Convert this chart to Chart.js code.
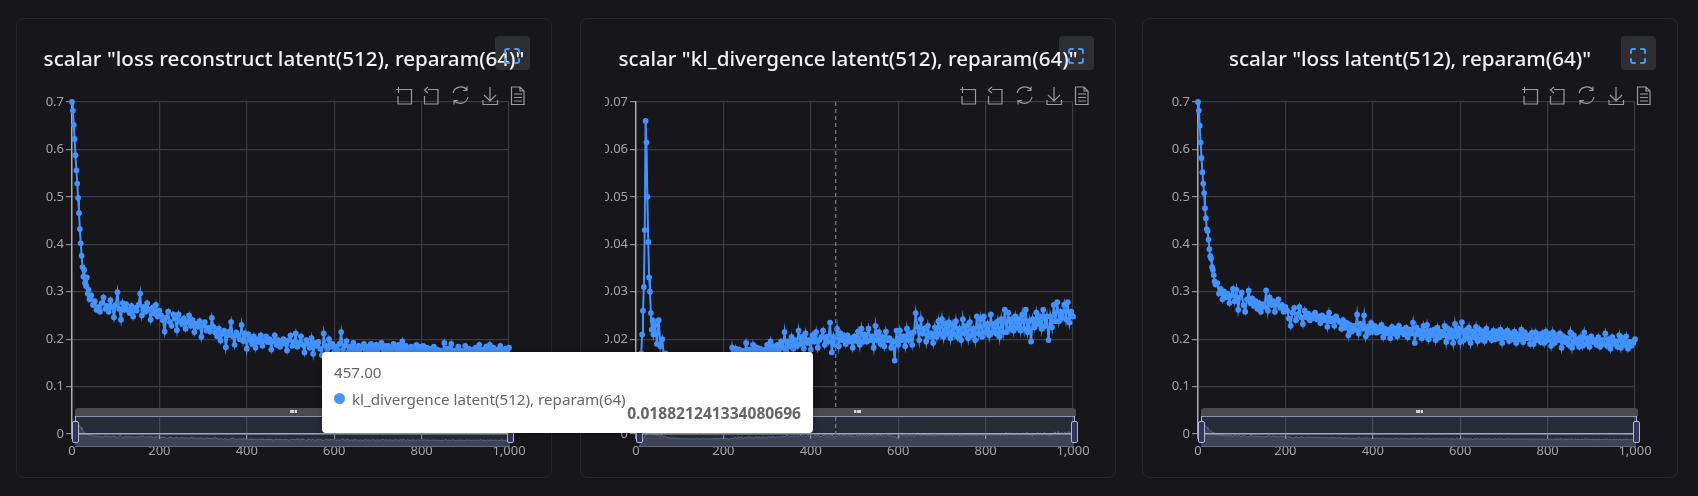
<!DOCTYPE html>
<html>
<head>
<meta charset="utf-8">
<title>scalars</title>
<script src="https://cdn.jsdelivr.net/npm/chart.js@4"></script>
<style>
html, body { margin: 0; padding: 0; background: #16161b; width: 1698px; height: 496px; overflow: hidden; font-family: "Noto Sans", sans-serif; }
.panel { position: absolute; top: 18px; width: 536px; height: 460px; box-sizing: border-box; border: 1px solid #26272b; border-radius: 8px; }
.panel canvas.main { position: absolute; left: -1px; top: -1px; clip-path: inset(0 0 0 25px); z-index: 2; }
.panel canvas.mini { position: absolute; left: 58px; top: 397px; z-index: 4; }
.btn { position: absolute; left: 478px; top: 17px; width: 35px; height: 34px; background: #2e2f34; border-radius: 4px; z-index: 1; }
.fullscreen { position: absolute; left: 487px; top: 28px; z-index: 5; }
.tools { position: absolute; left: 378px; top: 67px; z-index: 5; }
.filler { position: absolute; left: 58px; top: 397px; width: 435px; height: 31px; background: rgba(130,150,200,0.17); border-top: 1px solid #8e92a8; border-bottom: 1px solid #565a6b; box-sizing: border-box; z-index: 3; }
.mover { position: absolute; left: 58px; top: 389px; width: 437px; height: 8px; background: #4a4a4f; border-radius: 3px 3px 0 0; z-index: 3; }
.mover i { position: absolute; left: 215px; top: 2px; width: 7px; height: 3px; background: repeating-linear-gradient(90deg, #cfcfd4 0 2px, #7a7a80 2px 2.5px); }
.handle { position: absolute; top: 402px; width: 5px; height: 20px; background: #33345a; border: 1px solid #b5b6cf; border-radius: 2px; z-index: 6; }
.stem { position: absolute; top: 397px; width: 1px; height: 6px; background: #b5b6cf; z-index: 6; }
#tip { position: absolute; left: 322px; top: 352px; width: 491px; height: 81px; background: #fff; border-radius: 4px; color: #666; font-size: 15.2px; z-index: 10; box-shadow: 0 0 6px rgba(0,0,0,.25); }
#tip span { position: absolute; white-space: nowrap; line-height: 20px; }
#tip b { position: absolute; right: 12px; top: 51px; line-height: 20px; font-size: 15.6px; font-weight: 700; color: #666; }
#tip .dot { position: absolute; left: 12px; top: 41px; width: 11px; height: 11px; border-radius: 50%; background: #4a94ff; }
</style>
</head>
<body>
<div id="tip"></div>
<script>
// ---------- data ----------
const steps = [
    0, 2, 4, 6, 8, 10, 12, 14, 16, 18, 20, 22, 24, 26, 28, 30, 32, 34, 36, 38, 40,
    44, 48, 52, 56, 60, 64, 68, 72, 76, 80,
    84, 88, 92, 96, 100, 104, 108, 112, 116, 120,
    124, 128, 132, 136, 140, 144, 148, 152, 156, 160,
    164, 168, 172, 176, 180, 184, 188, 192, 196, 200,
    204, 208, 212, 216, 220, 224, 228, 232, 236, 240,
    244, 248, 252, 256, 260, 264, 268, 272, 276, 280,
    284, 288, 292, 296, 300, 304, 308, 312, 316, 320,
    324, 328, 332, 336, 340, 344, 348, 352, 356, 360,
    364, 368, 372, 376, 380, 384, 388, 392, 396, 400,
    404, 408, 412, 416, 420, 424, 428, 432, 436, 440,
    444, 448, 452, 456, 460, 464, 468, 472, 476, 480,
    484, 488, 492, 496, 500, 504, 508, 512, 516, 520,
    524, 528, 532, 536, 540, 544, 548, 552, 556, 560,
    564, 568, 572, 576, 580, 584, 588, 592, 596, 600,
    604, 608, 612, 616, 620, 624, 628, 632, 636, 640,
    644, 648, 652, 656, 660, 664, 668, 672, 676, 680,
    684, 688, 692, 696, 700, 704, 708, 712, 716, 720,
    724, 728, 732, 736, 740, 744, 748, 752, 756, 760,
    764, 768, 772, 776, 780, 784, 788, 792, 796, 800,
    804, 808, 812, 816, 820, 824, 828, 832, 836, 840,
    844, 848, 852, 856, 860, 864, 868, 872, 876, 880,
    884, 888, 892, 896, 900, 904, 908, 912, 916, 920,
    924, 928, 932, 936, 940, 944, 948, 952, 956, 960,
    964, 968, 972, 976, 980, 984, 988, 992, 996, 1000
];

const lossReconstruct = [
    .700, .682, .652, .622, .588, .556, .528, .498, .466, .432, .402, .376, .352, .332, .346, .318, .312, .330, .296, .304, .284,
    .292, .272, .280, .262, .268, .258, .276, .288, .264, .270,
    .258, .282, .268, .246, .272, .299, .264, .241, .276, .262,
    .274, .262, .255, .270, .248, .266, .260, .272, .296, .250,
    .268, .258, .276, .262, .241, .266, .254, .272, .248, .260,
    .250, .240, .216, .246, .258, .236, .228, .252, .244, .219,
    .252, .238, .232, .244, .222, .236, .250, .228, .240, .215,
    .232, .226, .238, .205, .228, .236, .218, .224, .216, .245,
    .226, .214, .206, .222, .197, .212, .218, .183, .208, .216,
    .236, .206, .188, .214, .208, .200, .230, .196, .212, .180,
    .210, .198, .190, .206, .182, .200, .194, .208, .186, .198,
    .206, .194, .200, .178, .196, .208, .188, .198, .184, .192,
    .200, .190, .176, .198, .208, .186, .194, .212, .184, .192,
    .206, .188, .172, .198, .190, .182, .202, .169, .192, .186,
    .194, .180, .166, .212, .186, .178, .200, .184, .190, .172,
    .184, .176, .190, .215, .178, .186, .196, .172, .184, .178,
    .192, .180, .174, .186, .168, .182, .190, .176, .184, .174,
    .190, .182, .176, .188, .170, .184, .192, .178, .186, .172,
    .186, .180, .172, .190, .182, .176, .188, .178, .195, .170,
    .186, .178, .174, .184, .180, .172, .188, .176, .184, .178,
    .186, .176, .182, .170, .180, .176, .184, .172, .178, .168,
    .176, .170, .192, .172, .180, .166, .190, .174, .176, .168,
    .184, .172, .176, .166, .186, .174, .180, .168, .178, .172,
    .182, .170, .188, .174, .178, .166, .184, .172, .188, .166,
    .182, .174, .178, .168, .186, .176, .170, .180, .176, .182
];

const klDivergence = [
    .001, .002, .004, .007, .010, .013, .017, .021, .026, .031, .043, .066, .0615, .050, .0405, .033, .030, .0255, .022, .024, .021,
    .023, .019, .024, .0185, .020, .0165, .017, .016, .0165, .0155,
    .016, .015, .0155, .0145, .015, .0145, .0155, .0145, .015, .014,
    .015, .014, .0155, .0145, .015, .014, .0155, .0145, .015, .0145,
    .015, .0145, .0155, .015, .0155, .0145, .016, .015, .0155, .015,
    .015, .0135, .016, .0145, .0182, .0155, .018, .0165, .0178, .016,
    .0175, .0165, .0192, .0172, .0178, .0155, .0188, .017, .0182, .016,
    .018, .0172, .0165, .0178, .0188, .0175, .0195, .017, .0185, .0178,
    .0188, .0178, .0195, .0182, .0215, .0175, .0195, .0185, .0205, .018,
    .0198, .0185, .0218, .019, .0205, .018, .0212, .0192, .0198, .0178,
    .0208, .0195, .0215, .0182, .0198, .0205, .0218, .0188, .0205, .0195,
    .0235, .0172, .0205, .0188, .0222, .0185, .0212, .0198, .0208, .019,
    .0208, .0195, .0202, .0182, .0206, .0196, .0216, .0188, .0222, .0195,
    .021, .0195, .0222, .0198, .0206, .0182, .0228, .0198, .0215, .019,
    .0205, .0185, .0216, .0198, .0202, .0182, .0195, .0155, .0218, .0188,
    .0218, .0198, .0206, .0185, .0222, .0198, .0212, .0188, .0215, .0255,
    .0226, .0198, .0242, .0212, .0222, .0195, .0228, .0205, .0212, .0192,
    .0225, .0205, .0238, .0212, .0242, .0205, .0232, .0212, .0236, .0202,
    .023, .021, .0238, .0205, .0222, .0198, .0242, .0212, .0228, .0202,
    .0236, .0208, .0222, .0198, .0248, .0212, .0242, .0205, .0248, .0215,
    .0232, .0208, .0252, .0215, .0232, .0212, .0238, .0205, .0242, .0215,
    .0262, .0215, .0256, .0222, .0242, .0218, .0248, .0225, .0242, .0218,
    .0252, .0222, .0262, .0215, .0238, .0195, .0242, .0225, .0256, .0232,
    .0248, .0222, .0262, .0228, .0248, .0198, .0248, .0225, .0272, .0238,
    .0278, .0238, .0258, .0245, .0272, .0242, .0278, .0235, .0258, .0248
];

const lossTotal = [
    .700, .682, .650, .615, .582, .552, .528, .508, .476, .455, .432, .428, .410, .390, .375, .370, .352, .346, .335, .322, .315,
    .318, .296, .306, .284, .300, .288, .296, .276, .292, .306,
    .280, .304, .262, .288, .298, .272, .258, .284, .302, .276,
    .286, .270, .280, .264, .276, .258, .274, .268, .303, .260,
    .288, .272, .280, .258, .274, .284, .266, .272, .258, .268,
    .260, .244, .228, .256, .266, .240, .252, .268, .246, .232,
    .260, .246, .254, .240, .250, .244, .256, .242, .248, .234,
    .250, .240, .246, .226, .256, .238, .244, .228, .248, .240,
    .236, .222, .240, .224, .234, .208, .230, .216, .228, .220,
    .252, .212, .232, .222, .250, .206, .226, .214, .234, .216,
    .228, .214, .224, .216, .230, .204, .222, .212, .220, .202,
    .226, .212, .222, .206, .228, .214, .220, .210, .224, .204,
    .220, .212, .235, .192, .224, .210, .218, .202, .228, .208,
    .230, .200, .218, .208, .220, .198, .224, .204, .216, .208,
    .228, .194, .222, .204, .218, .192, .232, .206, .222, .194,
    .236, .198, .218, .202, .224, .192, .216, .204, .226, .196,
    .220, .200, .216, .196, .222, .204, .212, .198, .218, .200,
    .216, .202, .220, .192, .214, .204, .218, .196, .212, .200,
    .216, .192, .210, .200, .220, .194, .214, .202, .208, .190,
    .213, .190, .214, .198, .210, .194, .212, .192, .216, .198,
    .210, .186, .214, .192, .208, .198, .212, .182, .206, .194,
    .202, .188, .214, .182, .208, .192, .200, .184, .204, .186,
    .214, .190, .202, .184, .206, .194, .198, .188, .204, .184,
    .198, .190, .212, .186, .200, .180, .204, .190, .196, .184,
    .208, .182, .202, .188, .206, .180, .194, .186, .192, .200
];

const hoverName = 'kl_divergence latent(512), reparam(64)';
const hoverStep = 457;
const hoverValue = '0.018821241334080696';

const blue = '#4292ff';
const fontName = '"Noto Sans", sans-serif';

// ---------- toolbar icons ----------
const toolsSvg = `<svg width="134" height="20" viewBox="0 0 134 20" fill="none" stroke="#9a9aa4" stroke-width="1.2">
<path d="M1 3.5h6M3.5 1v6M7 3.5h9.5v14.5h-13.500v-8"/>
<path d="M33 3.500h10v14.500h-13.500v-8M33 1l-3.500 3 3.500 3"/>
<path d="M58 7a8 8 0 0 1 14-3M73 11a8 8 0 0 1-14 3.500M72 0.500v4h-4M59 18.500v-4h4"/>
<path d="M95 1v14M89 9l6 6 6-6M88 14v4.500h14.500v-4.500"/>
<path d="M116.500 1h8.500l4 4v13.500h-12.500zM125 1v4h4M119 8h8M119 11.500h8M119 15h8"/>
</svg>`;
const fullSvg = `<svg width="16" height="16" viewBox="0 0 16 16" fill="none" stroke="#4a9bf0" stroke-width="2" stroke-linecap="round">
<path d="M1 5V3a2 2 0 0 1 2-2h2M11 1h2a2 2 0 0 1 2 2v2M15 11v2a2 2 0 0 1-2 2h-2M5 15H3a2 2 0 0 1-2-2v-2"/></svg>`;

// ---------- dashed line of the hovered step ----------
const pointerPlugin = {
    id: 'pointer',
    afterDatasetsDraw(chart, args, opts) {
        if (opts.step === undefined) return;
        const x = chart.scales.x.getPixelForValue(opts.step);
        const ctx = chart.ctx;
        ctx.save();
        ctx.strokeStyle = '#6c6c75';
        ctx.lineWidth = 1.5;
        ctx.setLineDash([4, 3]);
        ctx.beginPath();
        ctx.moveTo(x, chart.chartArea.top);
        ctx.lineTo(x, chart.chartArea.bottom);
        ctx.stroke();
        ctx.restore();
    }
};

function addEl(parent, cls, css) {
    const el = document.createElement('div');
    el.className = cls;
    if (css) el.style.cssText = css;
    parent.appendChild(el);
    return el;
}

function makePanel(left, title, values, yMax, yStep, miniMax, step) {
    const panel = addEl(document.body, 'panel', 'left:' + left + 'px');
    addEl(panel, 'btn');

    const canvas = document.createElement('canvas');
    canvas.className = 'main';
    canvas.width = 536;
    canvas.height = 460;
    panel.appendChild(canvas);

    const points = steps.map((s, i) => ({ x: s, y: values[i] }));

    new Chart(canvas, {
        type: 'line',
        data: {
            datasets: [{
                data: points,
                borderColor: blue,
                backgroundColor: blue,
                borderWidth: 2,
                pointRadius: 2.9,
                pointBorderWidth: 0,
                tension: 0,
                clip: false
            }]
        },
        plugins: [pointerPlugin],
        options: {
            responsive: false,
            animation: false,
            events: [],
            layout: { padding: 0 },
            plugins: {
                legend: { display: false },
                tooltip: { enabled: false },
                pointer: { step: step },
                title: {
                    display: true,
                    text: title,
                    color: '#f2f2f2',
                    font: { family: fontName, size: 20.6, weight: '500', lineHeight: 1.2 },
                    padding: { top: 29.5, bottom: 29.8 }
                }
            },
            scales: {
                x: {
                    type: 'linear',
                    min: 0,
                    max: 1000,
                    afterFit: (s) => { s.height = 44; },
                    ticks: { stepSize: 200, color: '#a3a3ad', padding: 4, maxRotation: 0, font: { family: fontName, size: 13 } },
                    grid: { color: '#3b3b42', lineWidth: 1.2, tickLength: 5, tickColor: '#8c8c96' },
                    border: { color: '#a9a9b8', width: 1.5 }
                },
                y: {
                    min: 0,
                    max: yMax,
                    afterFit: (s) => { s.width = 56; },
                    ticks: { stepSize: yStep, color: '#a3a3ad', padding: 2, font: { family: fontName, size: 13 } },
                    grid: { color: '#3b3b42', lineWidth: 1.2, tickLength: 6, tickColor: '#8c8c96' },
                    border: { color: '#a9a9b8', width: 1.5 }
                },
                // empty axis, only holds the margin right of the plot so the title stays centred on the panel
                margin: {
                    position: 'right',
                    afterFit: (s) => { s.width = 43; },
                    ticks: { display: false },
                    grid: { display: false, drawTicks: false },
                    border: { display: false }
                }
            }
        }
    });

    // data zoom slider under the x axis
    const mover = addEl(panel, 'mover');
    addEl(mover, '').outerHTML = '<i></i>';
    addEl(panel, 'filler');

    const mini = document.createElement('canvas');
    mini.className = 'mini';
    mini.width = 435;
    mini.height = 31;
    panel.appendChild(mini);
    new Chart(mini, {
        type: 'line',
        data: {
            datasets: [{
                data: points,
                borderColor: 'rgba(150,170,210,.4)',
                backgroundColor: 'rgba(150,165,205,.2)',
                borderWidth: 1,
                pointRadius: 0,
                tension: 0,
                fill: 'origin'
            }]
        },
        options: {
            responsive: false,
            animation: false,
            events: [],
            layout: { padding: 0 },
            plugins: { legend: { display: false }, tooltip: { enabled: false } },
            scales: {
                x: { type: 'linear', min: 0, max: 1000, display: false },
                y: { min: 0, max: miniMax, display: false }
            }
        }
    });

    addEl(panel, 'stem', 'left:58px');
    addEl(panel, 'stem', 'left:493px');
    addEl(panel, 'handle', 'left:55px');
    addEl(panel, 'handle', 'left:490px');

    addEl(panel, 'tools').innerHTML = toolsSvg;
    addEl(panel, 'fullscreen').innerHTML = fullSvg;
}

makePanel(16, 'scalar "loss reconstruct latent(512), reparam(64)"', lossReconstruct, 0.7, 0.1, 0.8);
makePanel(580, 'scalar "kl_divergence latent(512), reparam(64)"', klDivergence, 0.07, 0.01, 0.0555, hoverStep);
makePanel(1142, 'scalar "loss latent(512), reparam(64)"', lossTotal, 0.7, 0.1, 0.8);

// ---------- tooltip of the hovered step ----------
document.getElementById('tip').innerHTML =
    '<span style="left:12px;top:10px">' + hoverStep.toFixed(2) + '</span>' +
    '<div class="dot"></div>' +
    '<span style="left:30px;top:37px">' + hoverName + '</span>' +
    '<b>' + hoverValue + '</b>';
</script>
</body>
</html>
